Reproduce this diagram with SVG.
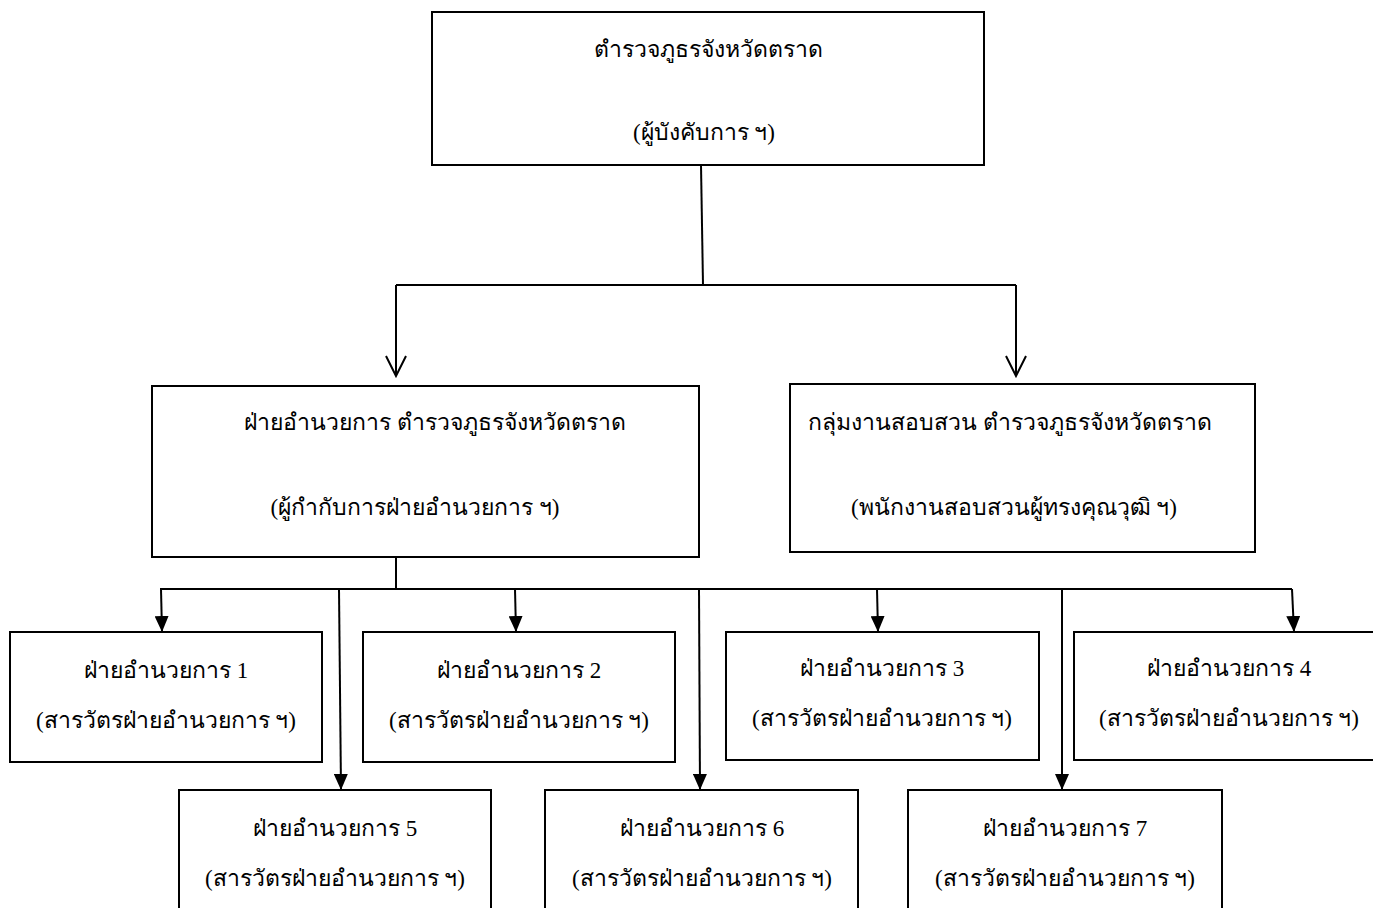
<svg xmlns="http://www.w3.org/2000/svg" width="1373" height="908" viewBox="0 0 1373 908">
<style>
.box{fill:#fff;stroke:#000;stroke-width:2}
.t{font-family:"Liberation Serif","Noto Sans",serif;font-size:23px;fill:#000;text-anchor:middle}
.c{fill:none;stroke:#000;stroke-width:2}
</style>
<defs>
<marker id="open" markerUnits="userSpaceOnUse" markerWidth="24" markerHeight="24" refX="22" refY="12" orient="auto" viewBox="0 0 24 24">
<path d="M2,2 L22,12 L2,22" fill="none" stroke="#000" stroke-width="2"/>
</marker>
<marker id="fill" markerUnits="userSpaceOnUse" markerWidth="16" markerHeight="14" refX="16" refY="7" orient="auto" viewBox="0 0 16 14">
<path d="M0,0 L16,7 L0,14 Z" fill="#000"/>
</marker>
</defs>
<g id="connectors">
<path class="c" d="M701,165 L703,285"/>
<path class="c" d="M396,285 L1016,285"/>
<path class="c" d="M396,285 L396,376" marker-end="url(#open)"/>
<path class="c" d="M1016,285 L1016,376" marker-end="url(#open)"/>
<path class="c" d="M396,557 L396,589"/>
<path class="c" d="M160,589 L1292,589"/>
<path class="c" d="M161,589 L162,632" marker-end="url(#fill)"/>
<path class="c" d="M339,589 L341,790" marker-end="url(#fill)"/>
<path class="c" d="M515,589 L516,632" marker-end="url(#fill)"/>
<path class="c" d="M699,589 L700,790" marker-end="url(#fill)"/>
<path class="c" d="M877,589 L878,632" marker-end="url(#fill)"/>
<path class="c" d="M1062,589 L1062,790" marker-end="url(#fill)"/>
<path class="c" d="M1292,589 L1294,632" marker-end="url(#fill)"/>
</g>
<g id="n-top"><rect class="box" x="432" y="12" width="552" height="153"/>
<text class="t" x="708" y="57">ตำรวจภูธรจังหวัดตราด</text>
<text class="t" x="704" y="140">(ผู้บังคับการ ฯ)</text></g>
<g id="n-admin"><rect class="box" x="152" y="386" width="547" height="171"/>
<text class="t" x="435" y="430">ฝ่ายอำนวยการ ตำรวจภูธรจังหวัดตราด</text>
<text class="t" x="415" y="515">(ผู้กำกับการฝ่ายอำนวยการ ฯ)</text></g>
<g id="n-invest"><rect class="box" x="790" y="384" width="465" height="168"/>
<text class="t" x="1010" y="430">กลุ่มงานสอบสวน ตำรวจภูธรจังหวัดตราด</text>
<text class="t" x="1014" y="515">(พนักงานสอบสวนผู้ทรงคุณวุฒิ ฯ)</text></g>
<g id="n-a1"><rect class="box" x="10" y="632" width="312" height="130"/>
<text class="t" x="166" y="678">ฝ่ายอำนวยการ 1</text>
<text class="t" x="166" y="728">(สารวัตรฝ่ายอำนวยการ ฯ)</text></g>
<g id="n-a2"><rect class="box" x="363" y="632" width="312" height="130"/>
<text class="t" x="519" y="678">ฝ่ายอำนวยการ 2</text>
<text class="t" x="519" y="728">(สารวัตรฝ่ายอำนวยการ ฯ)</text></g>
<g id="n-a3"><rect class="box" x="726" y="632" width="313" height="128"/>
<text class="t" x="882" y="676">ฝ่ายอำนวยการ 3</text>
<text class="t" x="882" y="726">(สารวัตรฝ่ายอำนวยการ ฯ)</text></g>
<g id="n-a4"><rect class="box" x="1074" y="632" width="310" height="128"/>
<text class="t" x="1229" y="676">ฝ่ายอำนวยการ 4</text>
<text class="t" x="1229" y="726">(สารวัตรฝ่ายอำนวยการ ฯ)</text></g>
<g id="n-a5"><rect class="box" x="179" y="790" width="312" height="130"/>
<text class="t" x="335" y="836">ฝ่ายอำนวยการ 5</text>
<text class="t" x="335" y="886">(สารวัตรฝ่ายอำนวยการ ฯ)</text></g>
<g id="n-a6"><rect class="box" x="545" y="790" width="313" height="130"/>
<text class="t" x="702" y="836">ฝ่ายอำนวยการ 6</text>
<text class="t" x="702" y="886">(สารวัตรฝ่ายอำนวยการ ฯ)</text></g>
<g id="n-a7"><rect class="box" x="908" y="790" width="314" height="130"/>
<text class="t" x="1065" y="836">ฝ่ายอำนวยการ 7</text>
<text class="t" x="1065" y="886">(สารวัตรฝ่ายอำนวยการ ฯ)</text></g>
</svg>
